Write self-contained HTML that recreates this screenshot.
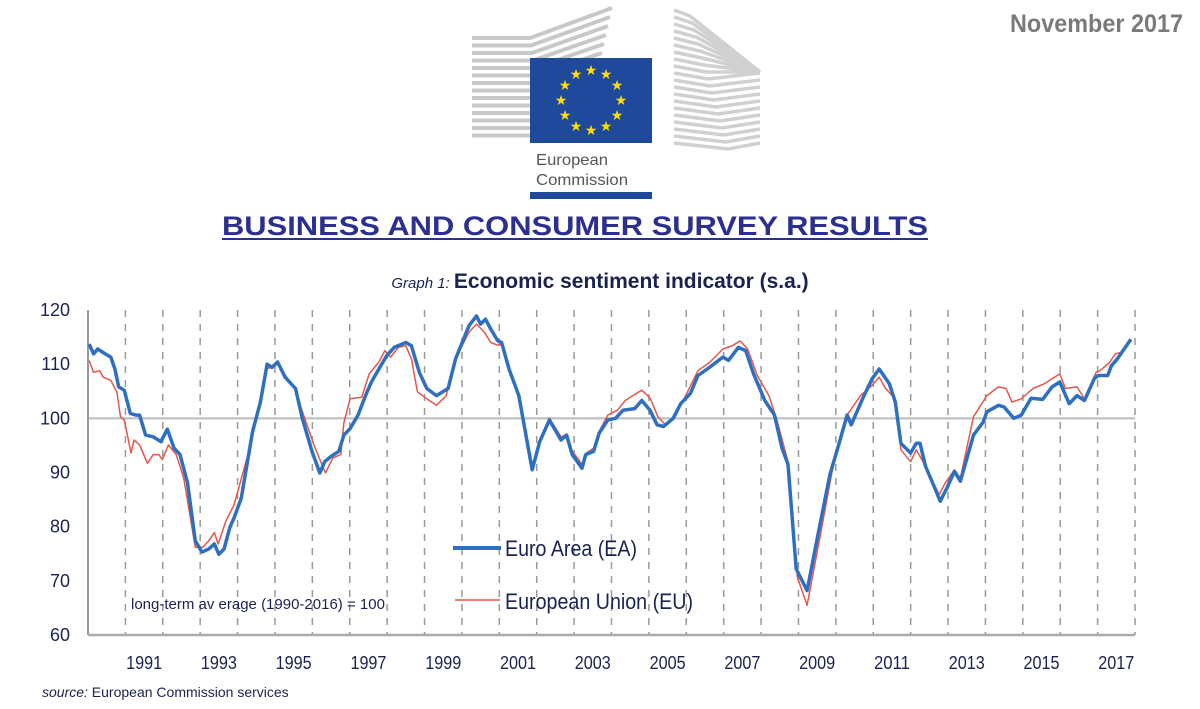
<!DOCTYPE html>
<html><head><meta charset="utf-8"><style>
html,body{margin:0;padding:0;background:#fff;}
svg{display:block;font-family:"Liberation Sans",Arial,sans-serif;}
</style></head><body>
<svg width="1200" height="709" viewBox="0 0 1200 709">
<g id="logo"></g>
<rect x="530" y="58" width="122" height="85" fill="#1f4a9c"/>
<g id="stars"></g>
<text x="536" y="165" font-size="16" fill="#555" textLength="72" lengthAdjust="spacingAndGlyphs">European</text>
<text x="536" y="185" font-size="16" fill="#555" textLength="92" lengthAdjust="spacingAndGlyphs">Commission</text>
<rect x="530" y="192" width="122" height="7" fill="#1f4a9c"/>
<text x="1010" y="32" font-size="25" font-weight="bold" fill="#7a7a7a" textLength="173" lengthAdjust="spacingAndGlyphs">November 2017</text>
<text x="222" y="235" font-size="27" font-weight="bold" fill="#2b2f8f" textLength="706" lengthAdjust="spacingAndGlyphs">BUSINESS AND CONSUMER SURVEY RESULTS</text>
<line x1="222" y1="239" x2="928" y2="239" stroke="#2b2f8f" stroke-width="2"/>
<text x="600" y="288" text-anchor="middle" fill="#1a2350"><tspan font-size="15" font-style="italic">Graph 1: </tspan><tspan font-size="21" font-weight="bold">Economic sentiment indicator (s.a.)</tspan></text>
<g id="chart"></g>
<text x="42" y="697" font-size="14" fill="#1a2350"><tspan font-style="italic">source:</tspan> European Commission services</text>
</svg>
<script>
const eaYears=[1990.03,1990.15,1990.26,1990.46,1990.61,1990.72,1990.82,1990.97,1991.13,1991.28,1991.38,1991.54,1991.74,1991.95,1992.12,1992.30,1992.46,1992.66,1992.87,1993.05,1993.23,1993.38,1993.50,1993.64,1993.79,1993.91,1994.10,1994.40,1994.61,1994.79,1994.92,1995.07,1995.27,1995.55,1995.73,1995.99,1996.20,1996.33,1996.50,1996.71,1996.84,1997.01,1997.22,1997.42,1997.58,1997.73,1997.99,1998.19,1998.50,1998.65,1998.86,1999.06,1999.32,1999.63,1999.83,2000.19,2000.39,2000.50,2000.63,2000.77,2000.96,2001.06,2001.26,2001.52,2001.88,2002.08,2002.34,2002.65,2002.80,2002.95,2003.21,2003.31,2003.52,2003.67,2003.90,2004.11,2004.31,2004.62,2004.81,2005.03,2005.22,2005.39,2005.65,2005.85,2006.11,2006.31,2006.62,2006.98,2007.13,2007.39,2007.59,2007.80,2008.10,2008.36,2008.56,2008.72,2008.94,2009.23,2009.54,2009.84,2010.10,2010.30,2010.41,2010.72,2010.97,2011.16,2011.43,2011.59,2011.74,2012.00,2012.15,2012.25,2012.40,2012.61,2012.79,2012.97,2013.17,2013.33,2013.68,2013.94,2014.04,2014.35,2014.50,2014.76,2014.96,2015.22,2015.53,2015.78,2015.99,2016.24,2016.45,2016.65,2016.91,2017.01,2017.27,2017.37,2017.53,2017.68,2017.89];
const eaValues=[113.7,111.9,112.8,111.9,111.3,109.1,105.8,105.2,100.9,100.6,100.6,96.9,96.6,95.7,98.0,94.5,93.3,88.1,77.4,75.3,75.9,76.8,74.9,75.9,79.8,81.7,85.3,97.5,103.0,110.0,109.4,110.4,107.6,105.5,100.0,93.9,89.9,92.0,93.0,93.9,96.9,98.1,100.6,104.2,106.7,108.5,111.6,113.1,114.0,113.4,108.5,105.5,104.2,105.5,111.0,117.1,118.9,117.4,118.3,116.5,114.3,114.0,109.1,104.2,90.5,95.7,99.7,96.0,96.9,93.3,90.8,93.3,93.9,97.3,99.7,100.0,101.5,101.8,103.3,101.5,98.8,98.5,100.0,102.7,104.6,107.9,109.4,111.3,110.7,113.1,112.5,108.2,103.3,100.6,94.5,91.5,72.2,68.2,79.2,89.6,95.7,100.6,98.8,103.7,107.3,109.1,106.4,103.0,95.4,93.6,95.4,95.4,91.1,87.7,84.7,87.1,90.2,88.4,96.9,99.3,101.2,102.4,102.1,100.0,100.6,103.7,103.5,105.8,106.7,102.7,104.2,103.3,107.3,107.9,107.9,109.7,111.0,112.5,114.6];
const euYears=[1990.03,1990.15,1990.31,1990.41,1990.61,1990.77,1990.87,1990.97,1991.15,1991.23,1991.38,1991.59,1991.74,1991.89,1991.99,1992.15,1992.36,1992.56,1992.87,1993.07,1993.23,1993.38,1993.48,1993.69,1993.91,1994.30,1994.79,1995.07,1995.52,1996.04,1996.35,1996.55,1996.76,1996.84,1997.01,1997.32,1997.52,1997.78,1997.94,1998.09,1998.30,1998.50,1998.65,1998.81,1999.06,1999.32,1999.58,1999.83,2000.19,2000.39,2000.60,2000.77,2000.96,2001.06,2001.26,2001.52,2001.88,2002.08,2002.34,2002.65,2002.80,2002.95,2003.21,2003.31,2003.52,2003.70,2003.90,2004.16,2004.37,2004.57,2004.81,2005.03,2005.24,2005.44,2005.70,2005.90,2006.31,2006.62,2006.98,2007.23,2007.44,2007.64,2007.90,2008.21,2008.41,2008.72,2008.97,2009.23,2009.59,2009.90,2010.15,2010.30,2010.66,2010.97,2011.16,2011.33,2011.59,2011.74,2012.00,2012.15,2012.40,2012.76,2012.92,2013.17,2013.33,2013.68,2014.04,2014.35,2014.55,2014.71,2014.96,2015.27,2015.58,2015.78,2015.99,2016.14,2016.45,2016.65,2016.96,2017.06,2017.32,2017.47,2017.63,2017.89];
const euValues=[110.7,108.5,108.8,107.6,107.0,104.9,100.3,99.7,93.6,96.0,95.1,91.7,93.3,93.3,92.4,95.1,93.3,89.0,76.2,76.2,77.4,78.9,76.8,81.1,84.1,93.9,109.1,110.0,105.5,95.1,89.9,92.7,93.3,99.1,103.6,103.9,108.2,110.4,112.5,111.3,113.1,113.4,111.0,104.9,103.6,102.4,104.2,111.0,115.9,117.4,115.9,114.0,113.5,113.6,109.0,104.5,91.0,96.0,100.0,96.6,97.0,94.0,91.5,93.5,94.5,98.0,100.6,101.5,103.3,104.2,105.2,103.8,100.3,98.8,100.6,103.0,108.8,110.3,112.8,113.4,114.3,112.8,107.9,104.2,100.0,92.0,70.7,65.5,78.6,90.2,96.9,100.6,104.2,106.1,107.6,105.5,103.6,94.2,92.0,94.2,91.1,85.9,88.0,90.5,89.0,100.3,104.2,105.8,105.5,103.0,103.6,105.5,106.4,107.3,108.2,105.5,105.8,103.6,108.5,108.8,110.3,111.9,112.2,114.3];
const yTicks=[60,70,80,90,100,110,120];
const xTickYears=[1991,1993,1995,1997,1999,2001,2003,2005,2007,2009,2011,2013,2015,2017];
const gridYears=[1991,1992,1993,1994,1995,1996,1997,1998,1999,2000,2001,2002,2003,2004,2005,2006,2007,2008,2009,2010,2011,2012,2013,2014,2015,2016,2017,2018];

const NS='http://www.w3.org/2000/svg';
const L=88,R=1135,T=310,B=635;
const xS=y=>L+(y-1990)/(2018-1990)*(R-L);
const yS=v=>B-(v-60)/(120-60)*(B-T);
function mk(tag,attrs,parent){const e=document.createElementNS(NS,tag);for(const k in attrs)e.setAttribute(k,attrs[k]);parent.appendChild(e);return e;}
const chart=document.getElementById('chart');

const logo=document.getElementById('logo');
for(let i=0;i<14;i++){
  const y=38+i*7.5;
  const s=mk('path',{d:`M472 ${y} L${530+i*1} ${y} L${612-i*2} ${y-30+i*1.5}`,stroke:'#c8c8c8','stroke-width':4,fill:'none'},logo);
  
  
}
for(let i=0;i<20;i++){
  const y=10+i*7;
  const s=mk('path',{d:`M674 ${y} L${690+i*2} ${y+6} L760 ${Math.max(y,72)}`,stroke:'#d0d0d0','stroke-width':3.5,fill:'none'},logo);
  
  
}
const stars=document.getElementById('stars');
for(let i=0;i<12;i++){
  const a=i*Math.PI/6;
  const t=mk('text',{x:591+30*Math.sin(a),y:100-30*Math.cos(a)+5,'text-anchor':'middle','font-size':14,fill:'#ffdd00'},stars);
  
  
  t.textContent='★';
}

gridYears.forEach(y=>{
  const l=mk('line',{x1:xS(y),x2:xS(y),y1:T,y2:B,stroke:'#999','stroke-width':1.5,'stroke-dasharray':'7,7'},chart);
  
  
});
const ref=mk('line',{x1:L,x2:R,y1:yS(100),y2:yS(100),stroke:'#bbb','stroke-width':2},chart);


const ya=mk('line',{x1:L,x2:L,y1:T,y2:B,stroke:'#999','stroke-width':2},chart);


const xa=mk('line',{x1:L,x2:R,y1:B,y2:B,stroke:'#aaa','stroke-width':2.5},chart);


yTicks.forEach(v=>{
  const t=mk('text',{x:70,y:yS(v)+6,'text-anchor':'end','font-size':18,fill:'#1a2350'},chart);
  
  
  t.textContent=v;
});
xTickYears.forEach(y=>{
  const t=mk('text',{x:xS(y+0.5)-18,y:669,'font-size':18,fill:'#1a2350',textLength:36,lengthAdjust:'spacingAndGlyphs'},chart);
  
  
  t.textContent=y;
});
function line(xs,vs,color,w,name){
  const d=xs.map((x,i)=>(i?'L':'M')+xS(x).toFixed(1)+' '+yS(vs[i]).toFixed(1)).join(' ');
  const p=mk('path',{d:d,stroke:color,'stroke-width':w,fill:'none','stroke-linejoin':'round'},chart);
  
  
}
line(euYears,euValues,'#e5564c',1.5,'eu-series-line');
line(eaYears,eaValues,'#2f6fc0',3.5,'ea-series-line');

const n=mk('text',{x:131,y:609,'font-size':15,fill:'#1a2350'},chart);


n.textContent='long-term av erage (1990-2016) = 100';
const l1=mk('line',{x1:453,x2:501,y1:548,y2:548,stroke:'#2f6fc0','stroke-width':4},chart);


const t1=mk('text',{x:505,y:556,'font-size':22,fill:'#1a2350',textLength:132,lengthAdjust:'spacingAndGlyphs'},chart);


t1.textContent='Euro Area (EA)';
const l2=mk('line',{x1:455,x2:500,y1:600,y2:600,stroke:'#e5564c','stroke-width':1.5},chart);


const t2=mk('text',{x:505,y:609,'font-size':22,fill:'#1a2350',textLength:188,lengthAdjust:'spacingAndGlyphs'},chart);


t2.textContent='European Union (EU)';
</script>
</body></html>
